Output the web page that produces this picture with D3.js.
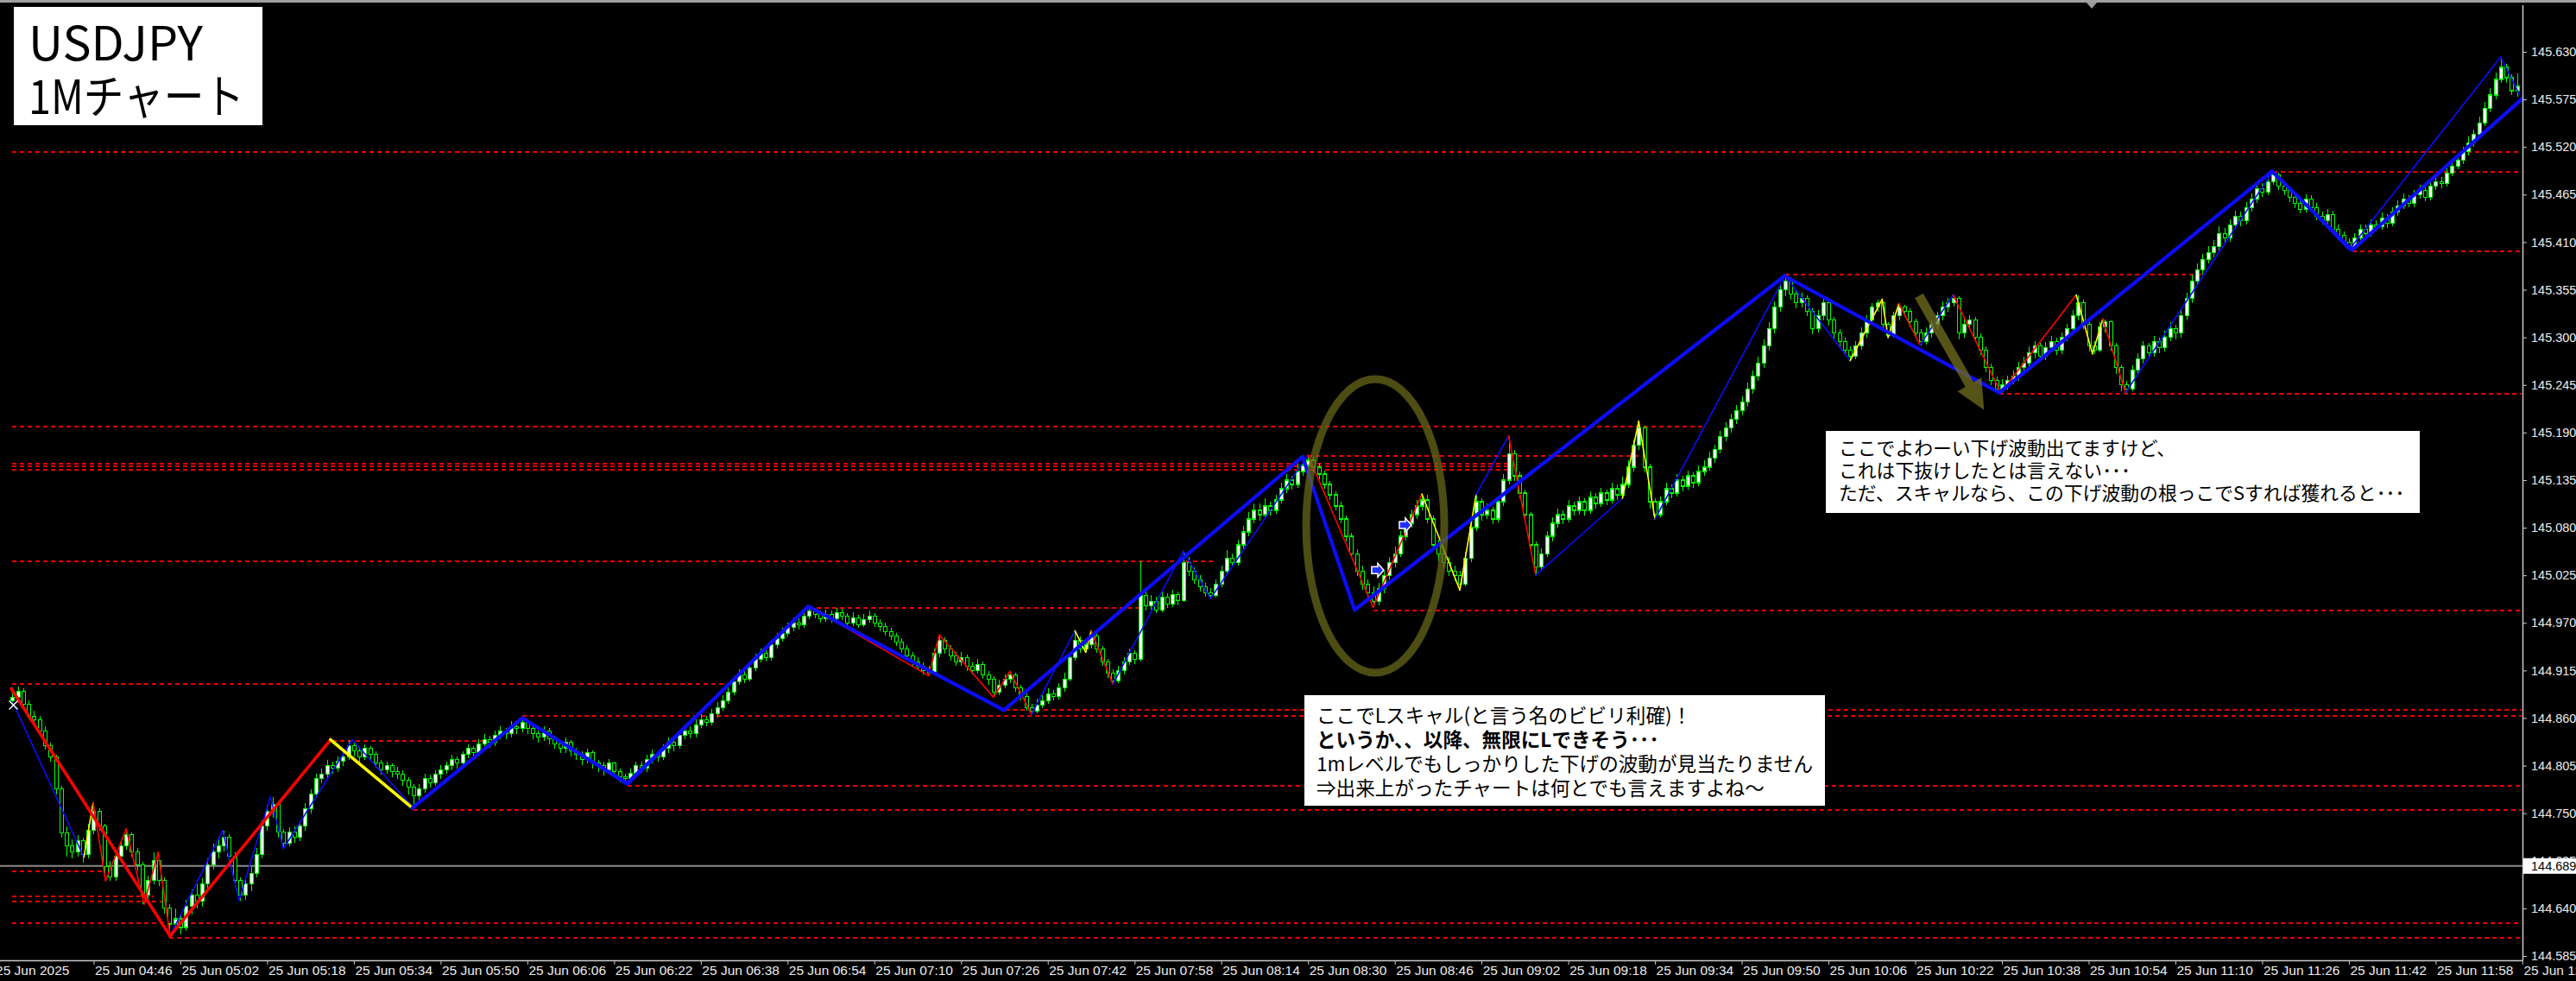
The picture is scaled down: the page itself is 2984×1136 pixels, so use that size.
<!DOCTYPE html>
<html><head><meta charset="utf-8">
<script src="https://cdn.jsdelivr.net/npm/d3@7"></script>
<style>html,body{margin:0;padding:0;background:#000;overflow:hidden}</style>
</head><body>
<svg id="chart" width="2984" height="1136"></svg>
<script>
// ===== DATA (prices in points above 144.000, 1 point = 0.001 JPY) =====
// 1-minute bars, first bar = 04:31 (minute 1 after 04:30)
const firstBarMinute = 1;
const opens = [
880,884,891,876,862,858,845,828,815,778, 727,712,705,718,702,730,752,735,688,676,
700,712,725,705,690,655,672,695,672,640, 622,628,618,642,655,648,668,690,705,712,
722,700,672,655,668,680,702,735,752,760, 728,715,728,722,735,755,772,790,795,805,
802,810,815,828,822,815,825,818,808,800, 805,798,795,788,780,770,778,790,785,795,
800,805,812,808,818,825,820,830,835,832, 840,845,842,850,848,855,848,842,838,845,
836,830,825,832,822,818,812,820,808,805, 800,808,798,792,790,796,805,802,812,818,
815,825,832,828,840,845,842,852,858,855, 865,872,880,890,902,910,905,918,928,935,
930,945,952,958,965,970,968,978,984,980, 975,980,975,982,978,970,976,968,974,978,
970,966,960,955,948,940,932,925,920,915, 912,935,950,940,932,925,930,920,915,922,
910,905,890,898,905,910,895,885,872,868, 875,880,888,885,895,905,930,950,940,945,
955,940,925,912,903,915,925,935,928,1002, 990,995,985,1000,992,1003,996,1040,1030,1020,
1012,1005,1002,1015,1030,1045,1040,1060,1075,1090, 1100,1095,1105,1100,1112,1125,1135,1130,1145,1152,
1158,1150,1142,1130,1118,1105,1090,1070,1050,1030, 1015,1005,995,1010,1025,1040,1050,1070,1085,1095,
1105,1112,1090,1060,1050,1040,1030,1025,1015,1045, 1080,1110,1095,1100,1090,1110,1135,1165,1140,1120,
1095,1060,1035,1050,1070,1085,1095,1090,1105,1100, 1110,1100,1115,1108,1120,1112,1125,1118,1130,1150,
1175,1195,1150,1110,1095,1110,1125,1120,1135,1128, 1140,1132,1145,1150,1160,1170,1185,1195,1205,1215,
1225,1240,1255,1270,1290,1310,1335,1355,1365,1350, 1340,1345,1330,1310,1325,1340,1320,1305,1295,1285,
1278,1290,1305,1320,1335,1340,1315,1302,1325,1335, 1330,1318,1305,1295,1305,1315,1325,1335,1340,1345,
1305,1315,1320,1300,1285,1265,1250,1240,1245,1250, 1255,1265,1270,1282,1290,1278,1288,1295,1285,1300,
1310,1325,1340,1315,1290,1285,1312,1318,1290,1265, 1245,1240,1262,1275,1290,1282,1295,1288,1300,1310,
1305,1325,1345,1365,1378,1390,1398,1405,1420,1415, 1430,1440,1435,1450,1460,1472,1468,1480,1488,1475,
1470,1462,1455,1448,1460,1450,1440,1435,1442,1425, 1418,1410,1405,1415,1425,1420,1430,1428,1438,1432,
1445,1452,1460,1455,1465,1470,1462,1475,1480,1478, 1490,1498,1505,1515,1525,1535,1548,1565,1580,1598,
1612,1600,1585];
const highs = [
895,896,894,880,868,862,850,832,818,782, 735,720,725,722,738,762,756,738,695,708,
718,732,728,710,694,678,705,698,676,645, 640,632,650,662,668,675,698,715,722,730,
726,705,676,675,688,710,742,760,769,764, 732,734,735,740,762,778,796,802,812,810,
816,822,835,832,826,830,828,822,812,810, 808,804,800,792,784,784,796,795,800,806,
810,818,816,822,830,828,836,842,840,846, 850,848,856,854,860,858,852,846,850,848,
840,834,838,835,826,822,825,823,812,810, 813,810,802,796,802,810,810,818,824,822,
830,838,836,845,852,850,858,864,862,870, 878,886,896,908,916,914,924,934,940,938,
950,958,964,970,976,975,984,989,987,984, 985,984,987,986,981,982,979,980,984,981,
974,970,964,958,952,944,936,930,924,920, 940,956,953,944,936,936,933,924,928,925,
914,908,904,910,914,912,898,888,876,882, 886,894,892,900,912,936,961,954,952,961,
958,943,928,916,920,930,940,938,1041,1008, 1002,1000,1006,1004,1008,1006,1053,1046,1034,1025,
1016,1010,1020,1036,1054,1050,1066,1082,1098,1108, 1108,1114,1110,1118,1132,1142,1140,1154,1160,1164,
1162,1155,1146,1134,1122,1110,1094,1074,1055,1036, 1020,1012,1016,1030,1046,1058,1076,1092,1101,1112,
1119,1118,1094,1066,1056,1046,1036,1030,1052,1088, 1118,1114,1108,1104,1116,1142,1186,1170,1145,1124,
1098,1064,1056,1076,1092,1102,1100,1112,1110,1116, 1114,1122,1120,1126,1124,1132,1130,1139,1158,1182,
1203,1198,1154,1114,1116,1132,1130,1142,1140,1146, 1144,1152,1158,1168,1176,1192,1202,1212,1222,1232,
1248,1262,1278,1298,1318,1342,1362,1371,1369,1356, 1352,1349,1334,1332,1346,1344,1324,1310,1300,1290,
1296,1312,1326,1340,1344,1342,1318,1330,1339,1338, 1334,1322,1310,1312,1320,1330,1342,1346,1349,1348,
1322,1326,1324,1305,1290,1270,1255,1252,1256,1262, 1272,1278,1290,1296,1294,1295,1302,1300,1306,1316,
1332,1349,1344,1318,1296,1318,1321,1320,1294,1268, 1250,1268,1282,1296,1294,1302,1300,1308,1318,1315,
1332,1352,1372,1385,1396,1405,1412,1428,1426,1436, 1446,1445,1456,1466,1478,1478,1486,1492,1490,1480,
1474,1466,1460,1465,1464,1455,1445,1448,1446,1430, 1422,1414,1420,1430,1430,1436,1435,1444,1442,1450,
1458,1466,1464,1470,1476,1474,1480,1486,1485,1496, 1504,1512,1520,1532,1540,1555,1572,1588,1606,1624,
1616,1604,1605];
const lows = [
876,880,872,858,852,840,824,810,772,722, 700,698,700,693,698,726,730,680,672,672,
695,708,700,684,645,650,668,666,634,608, 615,610,614,633,640,642,662,685,698,706,
694,665,649,650,660,676,698,730,745,722, 709,712,716,718,730,750,768,785,790,796,
798,805,812,816,810,812,812,803,795,796, 792,790,782,772,756,765,774,780,782,790,
796,800,802,804,814,815,816,826,826,828, 836,836,838,842,844,842,836,832,834,830,
825,820,820,816,812,806,808,802,798,794, 796,792,786,784,786,792,797,798,808,810,
812,820,822,825,836,837,838,848,850,851, 860,868,876,886,898,900,902,914,924,925,
926,940,948,954,960,962,964,974,975,970, 971,970,972,973,965,966,964,965,970,965,
960,955,950,943,935,927,920,915,910,909, 910,930,934,926,920,920,914,910,911,905,
898,884,886,894,900,890,880,868,864,865, 871,876,880,881,890,902,926,935,936,940,
935,920,906,899,900,910,921,922,925,984, 985,981,982,987,988,990,994,1024,1015,1006,
1000,998,999,1011,1026,1034,1036,1055,1070,1085, 1088,1090,1094,1096,1108,1120,1124,1126,1140,1146,
1144,1136,1125,1112,1100,1085,1064,1045,1024,1008, 998,988,990,1004,1020,1034,1046,1065,1080,1090,
1100,1085,1054,1041,1034,1024,1018,1008,1012,1040, 1076,1088,1090,1084,1086,1105,1130,1134,1114,1088,
1052,1025,1030,1046,1064,1080,1084,1086,1094,1095, 1094,1096,1102,1104,1106,1108,1112,1114,1126,1145,
1170,1144,1102,1090,1092,1106,1114,1116,1122,1124, 1126,1128,1140,1146,1155,1166,1180,1190,1200,1210,
1220,1235,1250,1265,1285,1305,1330,1348,1344,1334, 1335,1325,1304,1306,1320,1314,1298,1290,1280,1273,
1275,1286,1300,1316,1330,1310,1300,1300,1320,1324, 1312,1300,1291,1292,1300,1310,1320,1330,1336,1298,
1300,1310,1295,1280,1260,1245,1238,1236,1240,1246, 1250,1260,1265,1276,1272,1274,1284,1280,1281,1296,
1306,1320,1310,1284,1281,1283,1306,1285,1258,1238, 1236,1238,1258,1270,1276,1278,1282,1284,1296,1298,
1300,1320,1340,1360,1372,1385,1392,1400,1408,1410, 1425,1428,1430,1445,1455,1462,1464,1476,1470,1464,
1456,1449,1443,1444,1445,1435,1430,1430,1420,1412, 1405,1401,1402,1410,1414,1416,1422,1424,1426,1428,
1440,1448,1450,1450,1460,1457,1458,1470,1472,1474, 1486,1494,1500,1510,1520,1530,1544,1560,1575,1594,
1594,1580,1578];
const closes = [
884,891,876,862,858,845,828,815,778,727, 712,705,718,702,730,752,735,688,676,700,
712,725,705,690,655,672,695,672,640,622, 628,618,642,655,648,668,690,705,712,722,
700,672,655,668,680,702,735,752,760,728, 715,728,722,735,755,772,790,795,805,802,
810,815,828,822,815,825,818,808,800,805, 798,795,788,780,770,778,790,785,795,800,
805,812,808,818,825,820,830,835,832,840, 845,842,850,848,855,848,842,838,845,836,
830,825,832,822,818,812,820,808,805,800, 808,798,792,790,796,805,802,812,818,815,
825,832,828,840,845,842,852,858,855,865, 872,880,890,902,910,905,918,928,935,930,
945,952,958,965,970,968,978,984,980,975, 980,975,982,978,970,976,968,974,978,970,
966,960,955,948,940,932,925,920,915,912, 935,950,940,932,925,930,920,915,922,910,
905,890,898,905,910,895,885,872,868,875, 880,888,885,895,905,930,950,940,945,955,
940,925,912,903,915,925,935,928,1002,990, 995,985,1000,992,1003,996,1040,1030,1020,1012,
1005,1002,1015,1030,1045,1040,1060,1075,1090,1100, 1095,1105,1100,1112,1125,1135,1130,1145,1152,1158,
1150,1142,1130,1118,1105,1090,1070,1050,1030,1015, 1005,995,1010,1025,1040,1050,1070,1085,1095,1105,
1112,1090,1060,1050,1040,1030,1025,1015,1045,1080, 1110,1095,1100,1090,1110,1135,1165,1140,1120,1095,
1060,1035,1050,1070,1085,1095,1090,1105,1100,1110, 1100,1115,1108,1120,1112,1125,1118,1130,1150,1175,
1195,1150,1110,1095,1110,1125,1120,1135,1128,1140, 1132,1145,1150,1160,1170,1185,1195,1205,1215,1225,
1240,1255,1270,1290,1310,1335,1355,1365,1350,1340, 1345,1330,1310,1325,1340,1320,1305,1295,1285,1278,
1290,1305,1320,1335,1340,1315,1302,1325,1335,1330, 1318,1305,1295,1305,1315,1325,1335,1340,1345,1305,
1315,1320,1300,1285,1265,1250,1240,1245,1250,1255, 1265,1270,1282,1290,1278,1288,1295,1285,1300,1310,
1325,1340,1315,1290,1285,1312,1318,1290,1265,1245, 1240,1262,1275,1290,1282,1295,1288,1300,1310,1305,
1325,1345,1365,1378,1390,1398,1405,1420,1415,1430, 1440,1435,1450,1460,1472,1468,1480,1488,1475,1470,
1462,1455,1448,1460,1450,1440,1435,1442,1425,1418, 1410,1405,1415,1425,1420,1430,1428,1438,1432,1445,
1452,1460,1455,1465,1470,1462,1475,1480,1478,1490, 1498,1505,1515,1525,1535,1548,1565,1580,1598,1612,
1600,1585,1590];

// Major zigzag (minute, price points, segment colour)
const thickZigMinutes = [0.8,30.1,59.7,74.8,95.1,114.5,147.8,183.9,239,248.6,327.9,367.5,417.8,432.6,464];
const thickZigPrices  = [894,608,835,756,860,784,989,869,1162,985,1371,1236,1492,1401,1576];
const thickZigColors  = ["r","r","y","b","b","b","b","b","b","b","b","b","b","b"];

// Minor zigzag
const thinZigMinutes = [1.1,14.2,15.9,18.2,22,25.3,27.9,30.1,39.8,42.8,48.6,51,63.7,75,95,114,148,170,172,182,
  185,189,197,199,200,204,217,222,240,252,261,268,271,277,282,298,301,304,328,340,345.9,347,349,352.9,359,367.8,
  381.7,384.7,386.6,390.8,418,432,460,463.5];
const thinZigPrices = [878,699,762,672,732,645,705,608,730,649,769,709,835,756,860,784,989,909,956,884,
  914,864,961,936,961,899,1053,998,1164,988,1119,1008,1118,1186,1025,1114,1203,1090,1371,1273,1344,1300,1339,1291,1349,1236,
  1349,1281,1321,1236,1492,1401,1624,1580];
const thinZigColors = ["b","y","r","r","r","r","r","b","b","b","b","b","b","b","b","b","r","r","r","r",
  "r","b","y","y","r","b","b","b","r","r","y","y","b","r","b","y","y","b","b","y","y",
  "y","r","b","r","r","y","y","r","b","b","b","b"];

// Horizontal dotted levels (price points, from minute, to minute)
const levelPrices = [1515,1492,1400,1373,1236,1198,1164,1155,1152,1148,1042,988,985,900,870,863,835,783,755,684,655,649,624,607];
const levelStart  = [1,418,432.6,328,367.5,1,240,1,1,1,1,148,252,1,184,95,60,114.5,75,1,1,1,1,30];
const levelEnd    = [464,464,464,405,464,313,301,277,277,277,223,209,464,134,464,464,90,464,464,18,27,29,464,464];

const bidPrice = 689;
const bidLabel = "144.689";

// Axis ticks
const priceTicks = [585,640,695,750,805,860,915,970,1025,1080,1135,1190,1245,1300,1355,1410,1465,1520,1575,1630];
const timeTicks = [-2.3,16,32,48,64,80,96,112,128,144,160,176,192,208,224,240,256,272,288,304,320,336,352,368,384,400,416,432,448,464];
const timeLabels = ["25 Jun 2025","25 Jun 04:46","25 Jun 05:02","25 Jun 05:18","25 Jun 05:34","25 Jun 05:50","25 Jun 06:06",
  "25 Jun 06:22","25 Jun 06:38","25 Jun 06:54","25 Jun 07:10","25 Jun 07:26","25 Jun 07:42","25 Jun 07:58","25 Jun 08:14",
  "25 Jun 08:30","25 Jun 08:46","25 Jun 09:02","25 Jun 09:18","25 Jun 09:34","25 Jun 09:50","25 Jun 10:06","25 Jun 10:22",
  "25 Jun 10:38","25 Jun 10:54","25 Jun 11:10","25 Jun 11:26","25 Jun 11:42","25 Jun 11:58","25 Jun 12:14"];

// Texts
const titleLines = ["USDJPY","1Mチャート"];
const note1Lines = ["ここでLスキャル(と言う名のビビリ利確)！","というか、、以降、無限にLできそう･･･","1mレベルでもしっかりした下げの波動が見当たりません","⇒出来上がったチャートは何とでも言えますよね～"];
const note2Lines = ["ここでよわーい下げ波動出てますけど、","これは下抜けしたとは言えない･･･","ただ、スキャルなら、この下げ波動の根っこでSすれば獲れると･･･"];

// ===== DRAW =====
const W = 2984, H = 1136, plotRight = 2922, plotBottom = 1112;
const COL = {b:"#0c0cff", r:"#ff0000", y:"#ffff00"};
const svg = d3.select("#chart");
svg.append("rect").attr("width", W).attr("height", H).attr("fill", "#000");

const x = d3.scaleLinear().domain([0, 464]).range([8, 2921.9]);
const y = d3.scaleLinear().domain([585, 1630]).range([1107, 60]);

// top window border
svg.append("rect").attr("x",0).attr("y",0).attr("width",W).attr("height",3).attr("fill","#a0a0a0");
svg.append("path").attr("d","M2417,3 L2429,3 L2423,10 Z").attr("fill","#9a9a9a");

const plot = svg.append("g");

// dotted levels
plot.append("g").selectAll("line").data(levelPrices).join("line")
  .attr("x1",(d,i)=>x(levelStart[i])).attr("x2",(d,i)=>Math.min(x(levelEnd[i]),plotRight-1))
  .attr("y1",d=>Math.round(y(d))+0.5).attr("y2",d=>Math.round(y(d))+0.5)
  .attr("stroke","#e80000").attr("stroke-width",2).attr("stroke-dasharray","5,4")
  .attr("shape-rendering","crispEdges");

// bid line
plot.append("line").attr("x1",0).attr("x2",plotRight).attr("y1",y(bidPrice)).attr("y2",y(bidPrice))
  .attr("stroke","#8a8a8a").attr("stroke-width",2);

// candles
const bars = closes.map((c,i)=>({m:firstBarMinute+i,o:opens[i],h:highs[i],l:lows[i],c:c}));
const cg = plot.append("g").attr("shape-rendering","crispEdges");
cg.selectAll("line").data(bars).join("line")
  .attr("x1",d=>Math.round(x(d.m))+0.5).attr("x2",d=>Math.round(x(d.m))+0.5)
  .attr("y1",d=>y(d.h)).attr("y2",d=>y(d.l)).attr("stroke","#00ff00").attr("stroke-width",1.4);
cg.selectAll("rect").data(bars).join("rect")
  .attr("x",d=>Math.round(x(d.m))-1.5).attr("width",4)
  .attr("y",d=>y(Math.max(d.o,d.c))).attr("height",d=>Math.max(1,Math.abs(y(d.o)-y(d.c))))
  .attr("fill",d=>d.c>d.o?"#ffffff":"#000000").attr("stroke","#00ff00").attr("stroke-width",1.2);

// thin zigzag
const thinSeg = thinZigColors.map((c,i)=>({c:c,i:i}));
plot.append("g").selectAll("line").data(thinSeg).join("line")
  .attr("x1",d=>x(thinZigMinutes[d.i])).attr("y1",d=>y(thinZigPrices[d.i]))
  .attr("x2",d=>x(thinZigMinutes[d.i+1])).attr("y2",d=>y(thinZigPrices[d.i+1]))
  .attr("stroke",d=>COL[d.c]).attr("stroke-width",1.6).attr("stroke-linecap","round");

// thick zigzag
const thickSeg = thickZigColors.map((c,i)=>({c:c,i:i}));
plot.append("g").selectAll("line").data(thickSeg).join("line")
  .attr("x1",d=>x(thickZigMinutes[d.i])).attr("y1",d=>y(thickZigPrices[d.i]))
  .attr("x2",d=>x(thickZigMinutes[d.i+1])).attr("y2",d=>y(thickZigPrices[d.i+1]))
  .attr("stroke",d=>COL[d.c]).attr("stroke-width",d=>d.c==="b"?4.2:3.6).attr("stroke-linecap","round");

// small entry markers
function marker(m,p){
  const cx=x(m), cy=y(p);
  plot.append("path").attr("d",`M${cx-6},${cy-4} L${cx+1},${cy-4} L${cx+1},${cy-8} L${cx+8},${cy} L${cx+1},${cy+8} L${cx+1},${cy+4} L${cx-6},${cy+4} Z`)
    .attr("fill","#2030ff").attr("stroke","#ffffff").attr("stroke-width",1.5);
}
marker(252.7,1031); marker(257.8,1083);
plot.append("path").attr("d",`M${x(1.2)-5},${y(875)-5} L${x(1.2)+5},${y(875)+5} M${x(1.2)+5},${y(875)-5} L${x(1.2)-5},${y(875)+5}`)
  .attr("stroke","#ffffff").attr("stroke-width",1.5);

// ellipse annotation
plot.append("ellipse").attr("cx",x(252.4)).attr("cy",y(1082)).attr("rx",80).attr("ry",170)
  .attr("fill","none").attr("stroke","#6a6a1a").attr("stroke-opacity",0.72).attr("stroke-width",9);

// arrow annotation
(function(){
  const x1=x(352.7), y1=y(1348), x2=x(364.7), y2=y(1216);
  const dx=x2-x1, dy=y2-y1, L=Math.hypot(dx,dy), ux=dx/L, uy=dy/L, px=-uy, py=ux;
  const hl=34, hw=16, sw=5.5;
  const bx=x2-ux*hl, by=y2-uy*hl;
  const pts=[[x1+px*sw,y1+py*sw],[bx+px*sw,by+py*sw],[bx+px*hw,by+py*hw],[x2,y2],[bx-px*hw,by-py*hw],[bx-px*sw,by-py*sw],[x1-px*sw,y1-py*sw]];
  plot.append("path").attr("d","M"+pts.map(p=>p.join(",")).join("L")+"Z")
    .attr("fill","#6e6a1c").attr("fill-opacity",0.78);
})();

// axes
const AX = "'Liberation Sans', Arial, sans-serif";
const yAxis = d3.axisRight(y).tickValues(priceTicks).tickSize(5).tickFormat(v=>(144+v/1000).toFixed(3));
const gy = svg.append("g").attr("transform",`translate(${plotRight},0)`).call(yAxis);
gy.select(".domain").remove();
gy.selectAll("line").attr("stroke","#c8c8c8");
gy.selectAll("text").attr("fill","#ececec").attr("x",10)
  .style("font-family",AX).style("font-size","14.5px");

const xAxis = d3.axisBottom(x).tickValues(timeTicks).tickSize(5).tickFormat((d,i)=>timeLabels[i]);
const gx = svg.append("g").attr("transform",`translate(0,${plotBottom})`).call(xAxis);
gx.select(".domain").remove();
gx.selectAll("line").attr("stroke","#c8c8c8");
gx.selectAll("text").attr("fill","#ececec").attr("text-anchor","start").attr("x",1).attr("y",6)
  .style("font-family",AX).style("font-size","15.5px");

svg.append("line").attr("x1",plotRight+0.5).attr("x2",plotRight+0.5).attr("y1",6).attr("y2",plotBottom)
  .attr("stroke","#c8c8c8").attr("stroke-width",1.5);
svg.append("line").attr("x1",0).attr("x2",plotRight).attr("y1",plotBottom+0.5).attr("y2",plotBottom+0.5)
  .attr("stroke","#c8c8c8").attr("stroke-width",1.5);

// bid label
svg.append("rect").attr("x",plotRight+1).attr("y",y(bidPrice)-9).attr("width",W-plotRight).attr("height",18).attr("fill","#ffffff");
svg.append("text").attr("x",plotRight+10).attr("y",y(bidPrice)+5).text(bidLabel).attr("fill","#000")
  .style("font-family",AX).style("font-size","14.5px");

// title box
const JP = "'Noto Sans CJK JP','Noto Sans',sans-serif";
svg.append("rect").attr("x",16).attr("y",8).attr("width",288).attr("height",137).attr("fill","#fff");
svg.append("text").attr("x",33).attr("y",70).text(titleLines[0]).attr("textLength",202).attr("lengthAdjust","spacingAndGlyphs")
  .style("font-family",JP).style("font-size","54px").attr("fill","#000");
svg.append("text").attr("x",33).attr("y",132).text(titleLines[1]).attr("textLength",250).attr("lengthAdjust","spacingAndGlyphs")
  .style("font-family",JP).style("font-size","54px").attr("fill","#000");

// note 1
svg.append("rect").attr("x",1511).attr("y",805).attr("width",603).attr("height",128).attr("fill","#fff");
note1Lines.forEach((t,i)=>{
  svg.append("text").attr("x",1525).attr("y",837+i*28).text(t).attr("fill","#000")
    .style("font-family",JP).style("font-size","22.6px").style("font-weight",i===1?"700":"400");
});
// note 2
svg.append("rect").attr("x",2115).attr("y",499).attr("width",688).attr("height",95).attr("fill","#fff");
note2Lines.forEach((t,i)=>{
  svg.append("text").attr("x",2130).attr("y",527+i*26).text(t).attr("fill","#000")
    .style("font-family",JP).style("font-size","21.8px");
});
</script>
</body></html>
